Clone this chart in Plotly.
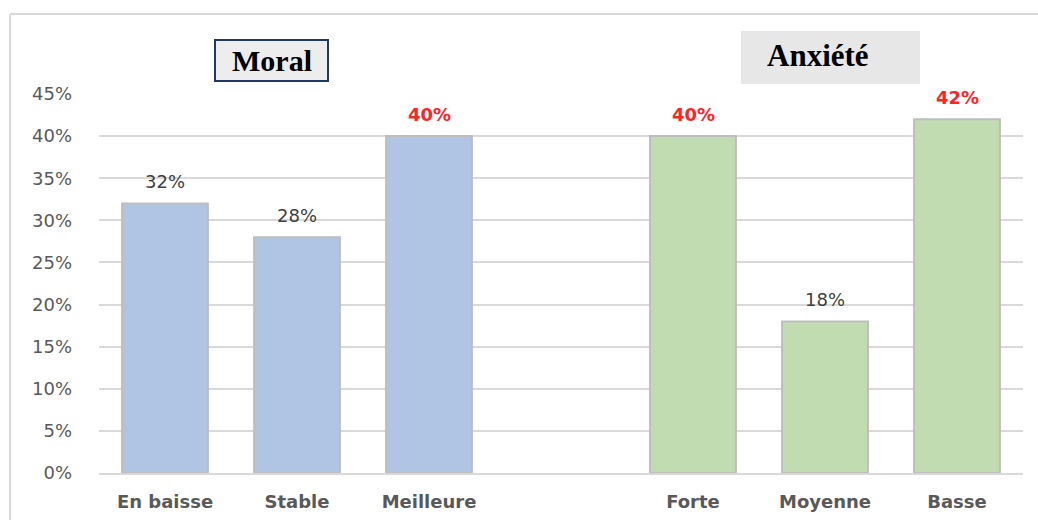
import plotly.graph_objects as go

# ---- data ----
moral_labels = ["En baisse", "Stable", "Meilleure"]
moral_values = [32, 28, 40]
moral_highlight = [False, False, True]

anx_labels = ["Forte", "Moyenne", "Basse"]
anx_values = [40, 18, 42]
anx_highlight = [True, False, True]

y_ticks = [0, 5, 10, 15, 20, 25, 30, 35, 40, 45]

# positions: one empty slot between the two groups
moral_x = [0, 1, 2]
anx_x = [4, 5, 6]

W, H = 1038, 520
L, R, T, B = 99, 15, 94, 47
PW, PH = W - L - R, H - T - B

def px(x):
    return (x - L) / PW

def py(y):
    return (H - B - y) / PH

SANS = "DejaVu Sans"
SERIF = "Liberation Serif"

fig = go.Figure()
fig.add_trace(go.Bar(
    x=moral_x, y=moral_values, width=0.65,
    marker=dict(color="#B0C4E4", line=dict(color="#BDBDBD", width=2)),
    hoverinfo="skip", showlegend=False,
))
fig.add_trace(go.Bar(
    x=anx_x, y=anx_values, width=0.65,
    marker=dict(color="#C2DCB1", line=dict(color="#BDBDBD", width=2)),
    hoverinfo="skip", showlegend=False,
))

annotations = []
for xs, vs, hs in [(moral_x, moral_values, moral_highlight), (anx_x, anx_values, anx_highlight)]:
    for x, v, h in zip(xs, vs, hs):
        annotations.append(dict(
            x=x, y=v, xref="x", yref="y",
            text=(f"<b>{v}%</b>" if h else f"{v}%"),
            showarrow=False, yanchor="middle", yshift=22,
            font=dict(family=SANS, size=18, color="#FF2424" if h else "#404040"),
        ))

# titles
annotations.append(dict(
    x=px(271.5), y=py(60), xref="paper", yref="paper",
    text="<b>Moral</b>", showarrow=False, xanchor="center", yanchor="middle",
    font=dict(family=SERIF, size=30, color="#000000"),
))
annotations.append(dict(
    x=px(818), y=py(56), xref="paper", yref="paper",
    text="<b>Anxiété</b>", showarrow=False, xanchor="center", yanchor="middle",
    font=dict(family=SERIF, size=31, color="#000000"),
))

shapes = [
    dict(type="rect", xref="paper", yref="paper",
         x0=px(215), x1=px(328), y0=py(81), y1=py(40),
         fillcolor="#EDEDED", line=dict(color="#1F3864", width=2), layer="below"),
    dict(type="rect", xref="paper", yref="paper",
         x0=px(741), x1=px(920), y0=py(84), y1=py(31),
         fillcolor="#E7E7E7", line=dict(width=0), layer="below"),
    # outer chart border (top and left)
    dict(type="line", xref="paper", yref="paper",
         x0=px(10), x1=px(W + 5), y0=py(14), y1=py(14),
         line=dict(color="#D9D9D9", width=2)),
    dict(type="line", xref="paper", yref="paper",
         x0=px(10), x1=px(10), y0=py(14), y1=py(H + 5),
         line=dict(color="#D9D9D9", width=2)),
]

fig.update_layout(
    width=W, height=H,
    margin=dict(l=L, r=R, t=T, b=B, autoexpand=False),
    paper_bgcolor="white", plot_bgcolor="white",
    bargap=0.35,
    annotations=annotations, shapes=shapes,
    xaxis=dict(
        range=[-0.5, 6.5],
        tickmode="array", tickvals=moral_x + anx_x,
        ticktext=[f"<b>{t}</b>" for t in moral_labels + anx_labels],
        tickfont=dict(family=SANS, size=18, color="#595959"),
        showgrid=False, zeroline=False,
        showline=True, linecolor="#D9D9D9", linewidth=2,
        ticks="", ticklabelstandoff=11, fixedrange=True, automargin=False,
    ),
    yaxis=dict(
        range=[0, 45],
        tickmode="array", tickvals=y_ticks,
        ticktext=[f"{t}%" for t in y_ticks],
        tickfont=dict(family=SANS, size=18, color="#595959"),
        showgrid=True, gridcolor="#D9D9D9", gridwidth=2,
        zeroline=False, showline=False,
        ticks="", ticklabelstandoff=26, fixedrange=True, automargin=False,
    ),
)

fig.write_html(
    "out.html",
    config={"displayModeBar": False},
    post_script="document.body.style.margin='0';document.body.style.overflow='hidden';",
)
